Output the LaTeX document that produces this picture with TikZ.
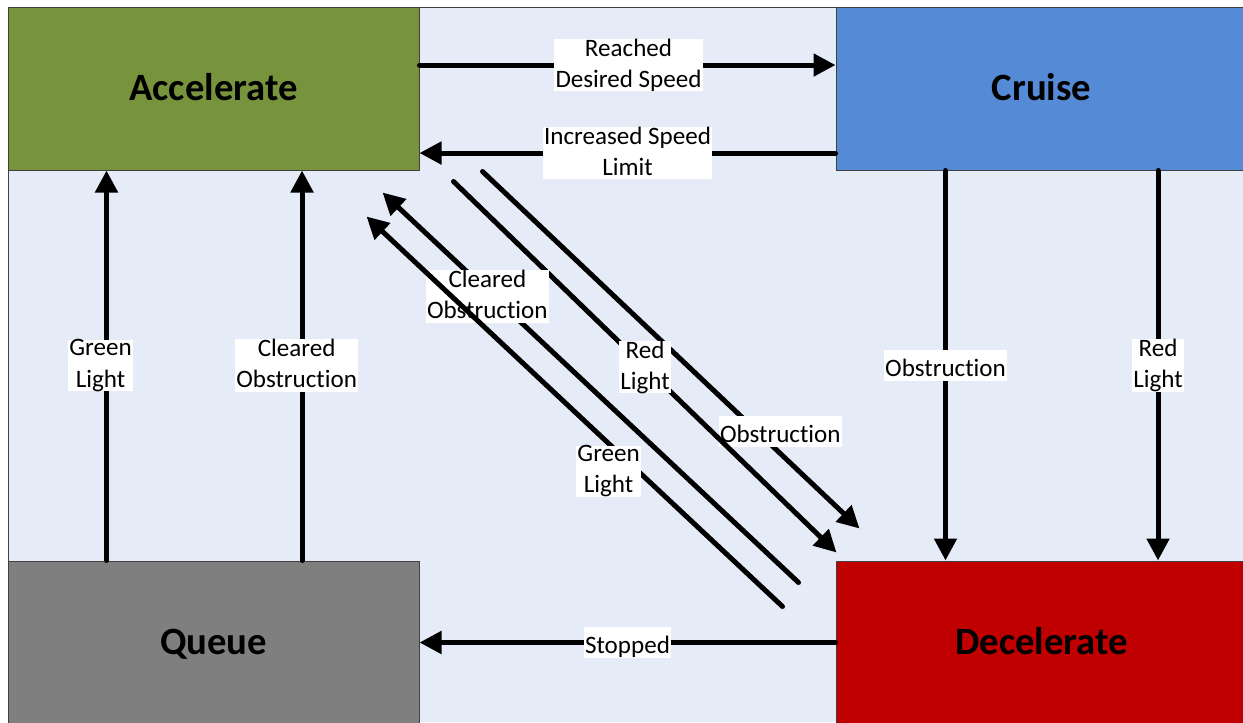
\documentclass[tikz,border=0pt]{standalone}
\usepackage{fontspec}
\setmainfont{Carlito}[Ligatures=NoCommon]
\usetikzlibrary{arrows.meta}

\newcommand\etstrut{\rule[-3.25pt]{0pt}{23.3pt}}

\begin{document}
\begin{tikzpicture}[x=0.75pt,y=-0.75pt,
        estado/.style={rectangle,draw=black!75,line width=0.75pt,minimum width=308.25pt,minimum height=122.25pt,inner sep=0pt,text height=17.5pt,text depth=0pt,font=\fontsize{29}{35}\selectfont\bfseries},
        trans/.style={line width=3.75pt,line cap=round,-{Triangle[length=16.5pt,width=16.5pt]}},
        etiq/.style={fill=white,inner xsep=1pt,inner ysep=0pt,align=center,font=\fontsize{18.8}{23.3}\selectfont,execute at begin node=\etstrut,execute at end node=\etstrut}]
        %colores
        \definecolor{fondo}{HTML}{E6ECF7}
        \definecolor{verde}{HTML}{77933C}
        \definecolor{azul}{HTML}{558AD6}
        \definecolor{gris}{HTML}{7F7F7F}
        \definecolor{rojo}{HTML}{C00000}

        \useasboundingbox (0,0) rectangle (1243,722);

        % fondo
        \fill[fondo] (8,7) rectangle (1243,722);
        \draw[black!75,line width=0.75pt] (8,722) -- (8,7) -- (1243,7);

        % estados
        \node[estado,fill=verde] (acc) at (213.5,88.5) {Accelerate};
        \node[estado,fill=azul] (cruise) at (1041.5,88.5) {Cruise};
        \node[estado,fill=gris] (queue) at (213.5,642.5) {Queue};
        \node[estado,fill=rojo] (dec) at (1041.5,642.5) {Decelerate};

        % extremos de las diagonales
        \coordinate (obsA) at ([shift={(63,1)}]acc.south east);
        \coordinate (obsB) at ([shift={(24,-32)}]dec.north west);
        \coordinate (redA) at ([shift={(34,11)}]acc.south east);
        \coordinate (redB) at ([shift={(1,-8)}]dec.north west);
        \coordinate (clrA) at ([shift={(-37,22)}]dec.north west);
        \coordinate (clrB) at ([shift={(-37,22)}]acc.south east);
        \coordinate (grnA) at ([shift={(-53,46)}]dec.north west);
        \coordinate (grnB) at ([shift={(-53,46)}]acc.south east);

        % transiciones horizontales
        \draw[trans] ([yshift=17.6pt]acc.east) -- ([yshift=17.6pt]cruise.west)
            node[etiq,pos=0.5,xshift=0.75pt] {Reached\\Desired Speed};
        \draw[trans] ([yshift=-48.4pt]cruise.west) -- ([yshift=-48.4pt]acc.east)
            node[etiq,pos=0.5] {Increased Speed\\Limit};
        \draw[trans] (dec.west) -- (queue.east) node[etiq,pos=0.5] {Stopped};

        % transiciones verticales
        \draw[trans] ([xshift=-80.25pt]queue.north) -- ([xshift=-80.25pt]acc.south)
            node[etiq,pos=0.5,xshift=-4.5pt] {Green\\Light};
        \draw[trans] ([xshift=66.4pt]queue.north) -- ([xshift=66.4pt]acc.south)
            node[etiq,pos=0.5,xshift=-4pt] {Cleared\\Obstruction};
        \draw[trans] ([xshift=-72pt]cruise.south) -- ([xshift=-72pt]dec.north)
            node[etiq,pos=0.5] {Obstruction};
        \draw[trans] ([xshift=87.4pt]cruise.south) -- ([xshift=87.4pt]dec.north)
            node[etiq,pos=0.5] {Red\\Light};

        % transiciones diagonales
        \draw[trans] (obsA) -- (obsB) node[etiq,pos=0.79,yshift=16.7pt] {Obstruction};
        \draw[trans] (redA) -- (redB) node[etiq,pos=0.5] {Red\\Light};
        \draw[trans] (clrA) -- (clrB) node[etiq,pos=0.748,yshift=-4.1pt] {Cleared\\Obstruction};
        \draw[trans] (grnA) -- (grnB) node[etiq,pos=0.418,yshift=-21pt] {Green\\Light};
    \end{tikzpicture}
\end{document}
